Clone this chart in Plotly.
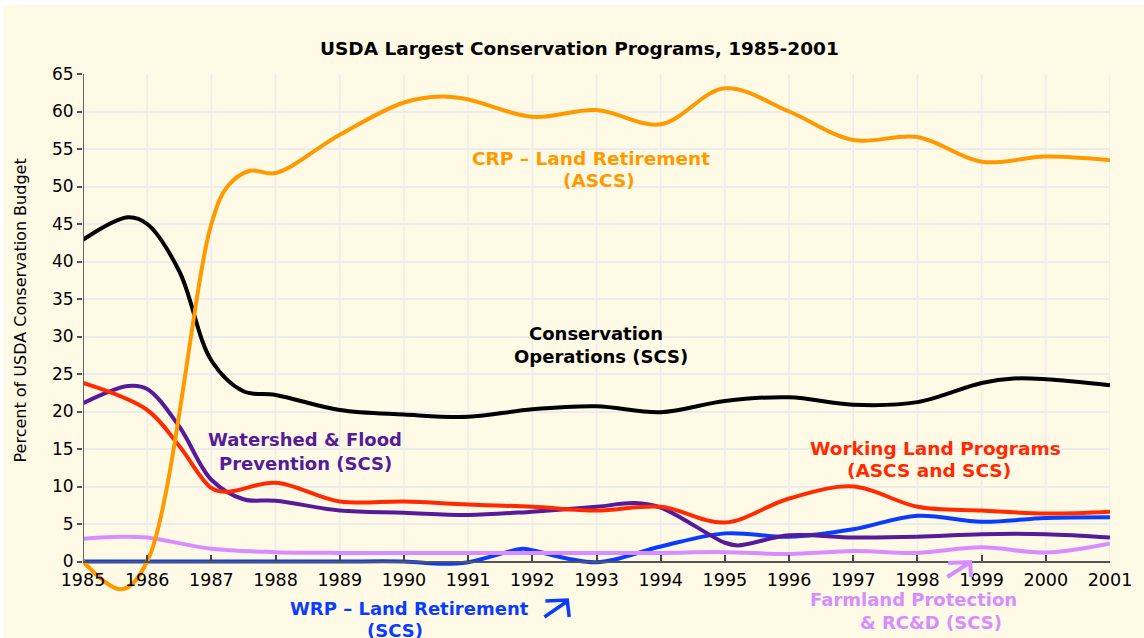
import plotly.graph_objects as go

# ---------------- data (percent of USDA conservation budget) ----------------
years = list(range(1985, 2002))
y_ticks = list(range(0, 66, 5))

crp_x = [1985, 1985.6, 1986, 1987, 1987.25, 1987.6, 1988, 1989, 1990, 1990.6, 1991,
         1992, 1993, 1994, 1995, 1996, 1997, 1998, 1999, 2000, 2001]
crp_y = [0, -3.7, 0, 45, 50, 52.1, 51.8, 56.9, 61.2, 62.0, 61.6,
         59.3, 60.2, 58.3, 63.1, 60.0, 56.2, 56.6, 53.3, 54.0, 53.5]

ops_x = [1985, 1985.7, 1986, 1986.5, 1987, 1987.5, 1988, 1989, 1990, 1991,
         1992, 1993, 1994, 1995, 1996, 1997, 1998, 1999, 1999.5, 2000, 2001]
ops_y = [42.9, 45.9, 45.0, 38.7, 26.8, 22.7, 22.2, 20.2, 19.6, 19.3,
         20.3, 20.7, 19.9, 21.4, 21.9, 20.9, 21.25, 23.8, 24.4, 24.3, 23.5]

wsh_x = [1985, 1985.7, 1986, 1986.5, 1987, 1987.5, 1988, 1989, 1990, 1991,
         1992, 1993, 1993.6, 1994, 1995, 1995.2, 1996, 1997, 1998, 1999, 2000, 2001]
wsh_y = [21.1, 23.4, 23.0, 18.0, 10.9, 8.3, 8.1, 6.8, 6.5, 6.2,
         6.65, 7.3, 7.8, 7.2, 2.5, 2.15, 3.5, 3.2, 3.3, 3.65, 3.65, 3.2]

wlp_x = [1985, 1986, 1986.5, 1987, 1987.25, 1988, 1989, 1990, 1991,
         1992, 1993, 1994, 1995, 1996, 1997, 1998, 1999, 2000, 2001]
wlp_y = [23.8, 20.2, 15.4, 9.8, 9.3, 10.5, 8.0, 8.0, 7.6,
         7.3, 6.8, 7.3, 5.2, 8.4, 10.0, 7.3, 6.8, 6.4, 6.65]

frm_x = [1985, 1985.6, 1986, 1987, 1988, 1989, 1990, 1991, 1992, 1993,
         1994, 1995, 1996, 1997, 1998, 1999, 2000, 2001]
frm_y = [3.05, 3.3, 3.2, 1.7, 1.25, 1.15, 1.15, 1.15, 1.15, 1.15,
         1.15, 1.25, 1.0, 1.4, 1.15, 1.9, 1.2, 2.4]

wrp_x = [1985, 1986, 1987, 1988, 1989, 1990, 1990.6, 1991, 1991.85, 1992, 1993,
         1994, 1995, 1996, 1997, 1998, 1999, 2000, 2001]
wrp_y = [0, 0, 0, 0, 0, 0, -0.3, -0.1, 1.7, 1.5, -0.1,
         2.0, 3.75, 3.3, 4.3, 6.1, 5.3, 5.8, 5.9]

# ---------------- styling ----------------
W, H = 1144, 638
L, R, T, B = 83, 1118, 74, 596
PW, PH = R - L, B - T
Y_TOP = 65
PX_PER_UNIT = 7.5
Y_MIN = Y_TOP - PH / PX_PER_UNIT

BG = "#FFFAE6"
FONT = "DejaVu Sans"
C_CRP, C_OPS, C_WSH = "#FF9900", "#000000", "#561B9B"
C_WLP, C_FRM, C_WRP = "#FF2A00", "#D88CFF", "#0A3CFF"


def px(xp):
    return (xp - L) / PW


def py(yp):
    return (B - yp) / PH


fig = go.Figure()

series = [
    (wrp_x, wrp_y, C_WRP, "WRP"),
    (frm_x, frm_y, C_FRM, "Farmland"),
    (wsh_x, wsh_y, C_WSH, "Watershed"),
    (wlp_x, wlp_y, C_WLP, "Working Land"),
    (ops_x, ops_y, C_OPS, "Conservation Operations"),
    (crp_x, crp_y, C_CRP, "CRP"),
]
for xs, ys, col, name in series:
    fig.add_trace(go.Scatter(x=xs, y=ys, mode="lines", name=name,
                             line=dict(color=col, width=4, shape="spline", smoothing=1.0),
                             hoverinfo="skip", showlegend=False))

shapes = []
# vertical grid lines (stop at the zero line)
for yr in years:
    shapes.append(dict(type="line", xref="x", yref="y", x0=yr, x1=yr, y0=0, y1=Y_TOP,
                       line=dict(color="#ECECEC", width=1.5), layer="below"))
# y axis line
shapes.append(dict(type="line", xref="x", yref="y", x0=years[0], x1=years[0], y0=0, y1=Y_TOP,
                   line=dict(color="#666666", width=2), layer="above"))
# white strips at top and left edges of the image
shapes.append(dict(type="rect", xref="paper", yref="paper", x0=px(-10), x1=px(W + 10),
                   y0=py(5), y1=py(-10), fillcolor="white", line=dict(width=0), layer="above"))
shapes.append(dict(type="rect", xref="paper", yref="paper", x0=px(-10), x1=px(3),
                   y0=py(H + 10), y1=py(-10), fillcolor="white", line=dict(width=0), layer="above"))


def arrow(points_list, col, width):
    path = ""
    for pts in points_list:
        path += "M " + " L ".join(f"{px(a):.5f},{py(b):.5f}" for a, b in pts) + " "
    return dict(type="path", xref="paper", yref="paper", path=path.strip(),
                line=dict(color=col, width=width), layer="above")


shapes.append(arrow([[(548, 617), (570, 602)], [(549, 601), (571, 600), (573, 617)]], C_WRP, 3.5))
shapes.append(arrow([[(954, 577), (976, 563)], [(955, 563), (977, 562), (978, 577)]], C_FRM, 4))

ann = []


def label(text, xc, yc, col, size=18, bold=True):
    ann.append(dict(text=f"<b>{text}</b>" if bold else text, x=px(xc), y=py(yc),
                    xref="paper", yref="paper", xanchor="center", yanchor="middle",
                    showarrow=False, font=dict(family=FONT, size=size, color=col)))


label("USDA Largest Conservation Programs, 1985-2001", 583, 48, "#000000", size=18.5)
label("CRP – Land Retirement", 595, 158, C_CRP, size=18.5)
label("(ASCS)", 603, 181, C_CRP, size=18.5)
label("Conservation", 600, 333, C_OPS)
label("Operations (SCS)", 605, 356, C_OPS)
label("Watershed &amp; Flood", 307, 440, C_WSH)
label("Prevention (SCS)", 307, 463, C_WSH)
label("Working Land Programs", 942, 448, C_WLP, size=18.5)
label("(ASCS and SCS)", 936, 470, C_WLP, size=18.5)
label("WRP – Land Retirement", 412, 608, C_WRP)
label("(SCS)", 397, 630, C_WRP)
label("Farmland Protection", 920, 599, C_FRM)
label("&amp; RC&amp;D (SCS)", 938, 622, C_FRM)

ann.append(dict(text="Percent of USDA Conservation Budget", x=px(20), y=py(310),
                xref="paper", yref="paper", xanchor="center", yanchor="middle",
                textangle=-90, showarrow=False,
                font=dict(family=FONT, size=16, color="#000000")))

fig.update_layout(
    width=W, height=H,
    margin=dict(l=L, r=W - R, t=T, b=H - B, pad=0),
    paper_bgcolor=BG, plot_bgcolor=BG,
    font=dict(family=FONT, color="#000000"),
    showlegend=False,
    shapes=shapes,
    annotations=ann,
    xaxis=dict(range=[years[0], years[-1]], tickmode="array", tickvals=years,
               ticktext=[str(y) for y in years], ticks="inside", ticklen=6,
               tickcolor="#444444", tickwidth=1.5, showline=True, linecolor="#555555",
               linewidth=1.5, showgrid=False, zeroline=False, anchor="free",
               position=(0 - Y_MIN) / (Y_TOP - Y_MIN), ticklabelstandoff=3,
               tickfont=dict(family=FONT, size=17.5, color="#000000"), fixedrange=True),
    yaxis=dict(range=[Y_MIN, Y_TOP], tickmode="array", tickvals=y_ticks,
               ticks="outside", ticklen=5, tickcolor="#555555", tickwidth=1.5,
               showline=False, showgrid=True, gridcolor="#ECECEC", gridwidth=1.5,
               zeroline=False, tickfont=dict(family=FONT, size=17, color="#000000"),
               fixedrange=True),
)

fig.write_html("out.html", config={"displayModeBar": False},
               post_script="document.body.style.margin='0px';document.body.style.padding='0px';")
